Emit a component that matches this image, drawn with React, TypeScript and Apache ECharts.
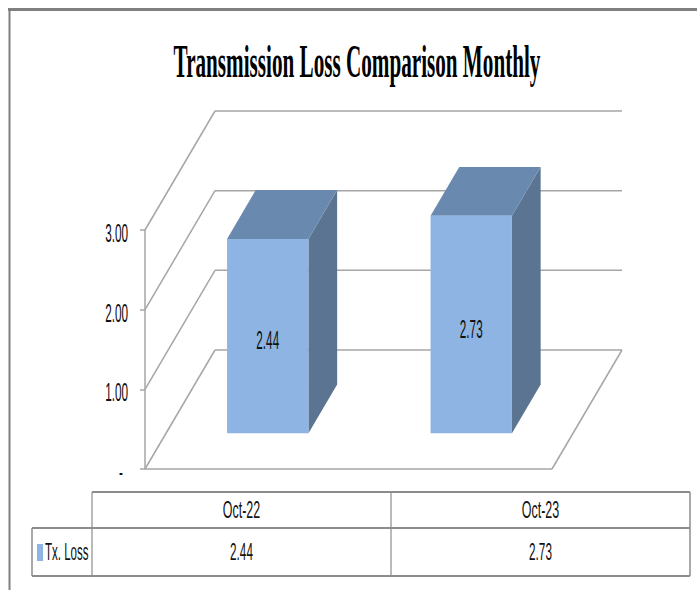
import React, { useEffect, useRef } from "react";
import * as echarts from "echarts";

const chartTitle = "Transmission Loss Comparison Monthly";
const categories = ["Oct-22", "Oct-23"];
const seriesName = "Tx. Loss";
const txLoss = [2.44, 2.73];
const yTicks = [0, 1, 2, 3];
const yTickLabels = ["-", "1.00", "2.00", "3.00"];

const W = 697;
const H = 590;
const GRID = { left: 145, top: 230, right: 145, bottom: 121 };
const DEPTH_X = 70;
const DEPTH_Y = -119;
const Z_FRONT = 0.3;
const Z_BACK = 0.71;
const BAR_RATIO = 0.4;
const FRONT = "#8DB4E3";
const TOPC = "#6A89AF";
const SIDE = "#5A7492";
const GRID_COLOR = "#A6A6A6";
const FRAME = "#808080";
const SANS = "'Liberation Sans', Arial, sans-serif";
const SERIF = "'Liberation Serif', 'Times New Roman', serif";
const NARROW = 0.5;

const TABLE = { headerTop: 492, rowTop: 528, bottom: 576, left: 32, labelRight: 92, right: 690 };

function ctext(x: number, y: number, text: string, fontSize: number, align: string, extra: any = {}) {
  return {
    type: "text",
    x,
    y,
    scaleX: NARROW,
    silent: true,
    style: {
      text,
      fill: "#111",
      fontSize,
      fontFamily: SANS,
      align,
      verticalAlign: "middle",
      textAlign: align,
      textVerticalAlign: "middle",
    },
    ...extra,
  };
}

function hline(x1: number, x2: number, y: number, w: number, color = "#8C8C8C") {
  return { type: "line", silent: true, shape: { x1, y1: y, x2, y2: y }, style: { stroke: color, lineWidth: w } };
}
function vline(x: number, y1: number, y2: number, w: number, color = "#8C8C8C") {
  return { type: "line", silent: true, shape: { x1: x, y1, x2: x, y2 }, style: { stroke: color, lineWidth: w } };
}

function buildTable(): any[] {
  const t = TABLE;
  const colW = (t.right - t.labelRight) / categories.length;
  const els: any[] = [];
  els.push(hline(t.labelRight, t.right, t.headerTop, 2));
  els.push(hline(t.left, t.right, t.rowTop, 2));
  els.push(hline(t.left, t.right, t.bottom, 2));
  els.push(vline(t.left, t.rowTop, t.bottom, 1.5));
  els.push(vline(t.labelRight, t.headerTop, t.bottom, 1.2));
  for (let i = 1; i < categories.length; i++) {
    els.push(vline(t.labelRight + colW * i, t.headerTop, t.bottom, 1.2));
  }
  els.push(vline(t.right, t.headerTop, t.bottom, 1.5));
  const hy = (t.headerTop + t.rowTop) / 2;
  const ry = (t.rowTop + t.bottom) / 2;
  categories.forEach((c, i) => {
    const cx = t.labelRight + colW * (i + 0.5);
    els.push(ctext(cx, hy, c, 24, "center", { scaleX: 0.52 }));
    els.push(ctext(cx, ry, txLoss[i].toFixed(2), 24, "center", { scaleX: 0.49 }));
  });
  els.push({
    type: "rect",
    silent: true,
    shape: { x: 37, y: ry - 8, width: 6, height: 17 },
    style: { fill: FRONT },
  });
  els.push(ctext(45, ry, seriesName, 24, "left", { scaleX: 0.48 }));
  return els;
}

export default function App() {
  const ref = useRef<HTMLDivElement>(null);
  useEffect(() => {
    if (!ref.current) return;
    const chart = echarts.init(ref.current, undefined, { renderer: "svg" });
    const option: any = {
      animation: false,
      backgroundColor: "#ffffff",
      grid: { left: GRID.left, top: GRID.top, right: GRID.right, bottom: GRID.bottom },
      xAxis: { type: "category", data: categories, show: false },
      yAxis: {
        type: "value",
        min: 0,
        max: 3,
        interval: 1,
        axisLine: { show: true, lineStyle: { color: GRID_COLOR, width: 1.5 } },
        axisTick: { show: true, length: 5, lineStyle: { color: GRID_COLOR, width: 1.5 } },
        axisLabel: { show: false },
        splitLine: { show: false },
      },
      series: [
        {
          type: "custom",
          name: "walls",
          z: 1,
          silent: true,
          data: yTicks.map((v, i) => [0, v, i]),
          renderItem: (params: any, api: any) => {
            const cs = params.coordSys;
            const L = cs.x;
            const R = cs.x + cs.width;
            const v = api.value(1);
            const idx = api.value(2);
            const y = api.coord([0, v])[1];
            const st = { stroke: GRID_COLOR, lineWidth: 1.5 };
            const children: any[] = [
              { type: "line", shape: { x1: L, y1: y, x2: L + DEPTH_X, y2: y + DEPTH_Y }, style: st },
              { type: "line", shape: { x1: L + DEPTH_X, y1: y + DEPTH_Y, x2: R + DEPTH_X, y2: y + DEPTH_Y }, style: st },
            ];
            if (v === 0) {
              children.push({ type: "line", shape: { x1: L, y1: y, x2: R, y2: y }, style: st });
              children.push({ type: "line", shape: { x1: R, y1: y, x2: R + DEPTH_X, y2: y + DEPTH_Y }, style: st });
            }
            const lx = v === 0 ? L - 22 : L - 17;
            children.push(ctext(lx, y + 3, yTickLabels[idx], 25, "right", { scaleX: 0.47 }));
            return { type: "group", children };
          },
        },
        {
          type: "custom",
          name: seriesName,
          z: 2,
          silent: true,
          data: txLoss.map((v, i) => [i, v]),
          renderItem: (params: any, api: any) => {
            const cat = api.value(0);
            const v = api.value(1);
            const base = api.coord([cat, 0]);
            const top = api.coord([cat, v]);
            const band = api.size([1, 0])[0];
            const w = band * BAR_RATIO;
            const fx = DEPTH_X * Z_FRONT;
            const fy = DEPTH_Y * Z_FRONT;
            const bx = DEPTH_X * Z_BACK;
            const by = DEPTH_Y * Z_BACK;
            const x0 = base[0] - w / 2;
            const x1 = base[0] + w / 2;
            const yb = base[1];
            const yt = top[1];
            return {
              type: "group",
              children: [
                {
                  type: "polygon",
                  shape: { points: [[x1 + fx, yt + fy], [x1 + bx, yt + by], [x1 + bx, yb + by], [x1 + fx, yb + fy]] },
                  style: { fill: SIDE },
                },
                {
                  type: "polygon",
                  shape: { points: [[x0 + fx, yt + fy], [x1 + fx, yt + fy], [x1 + bx, yt + by], [x0 + bx, yt + by]] },
                  style: { fill: TOPC },
                },
                {
                  type: "rect",
                  shape: { x: x0 + fx, y: yt + fy, width: w, height: yb - yt },
                  style: { fill: FRONT },
                },
                ctext(base[0] + fx, (yt + yb) / 2 + fy + 4, v.toFixed(2), 25, "center", { scaleX: 0.47 }),
              ],
            };
          },
        },
      ],
      graphic: {
        elements: [
          { type: "line", silent: true, shape: { x1: 8, y1: 9.5, x2: W, y2: 9.5 }, style: { stroke: FRAME, lineWidth: 3 } },
          { type: "line", silent: true, shape: { x1: 9.5, y1: 8, x2: 9.5, y2: H }, style: { stroke: FRAME, lineWidth: 2 } },
          {
            type: "text",
            x: 357,
            y: 62,
            scaleX: 0.45,
            silent: true,
            style: {
              text: chartTitle,
              fill: "#000",
              fontSize: 47,
              fontWeight: "bold",
              fontFamily: SERIF,
              align: "center",
              verticalAlign: "middle",
              textAlign: "center",
              textVerticalAlign: "middle",
            },
          },
          ...buildTable(),
        ],
      },
    };
    chart.setOption(option);
    return () => chart.dispose();
  }, []);
  return <div ref={ref} style={{ position: "fixed", left: 0, top: 0, width: W, height: H, background: "#fff" }} />;
}
